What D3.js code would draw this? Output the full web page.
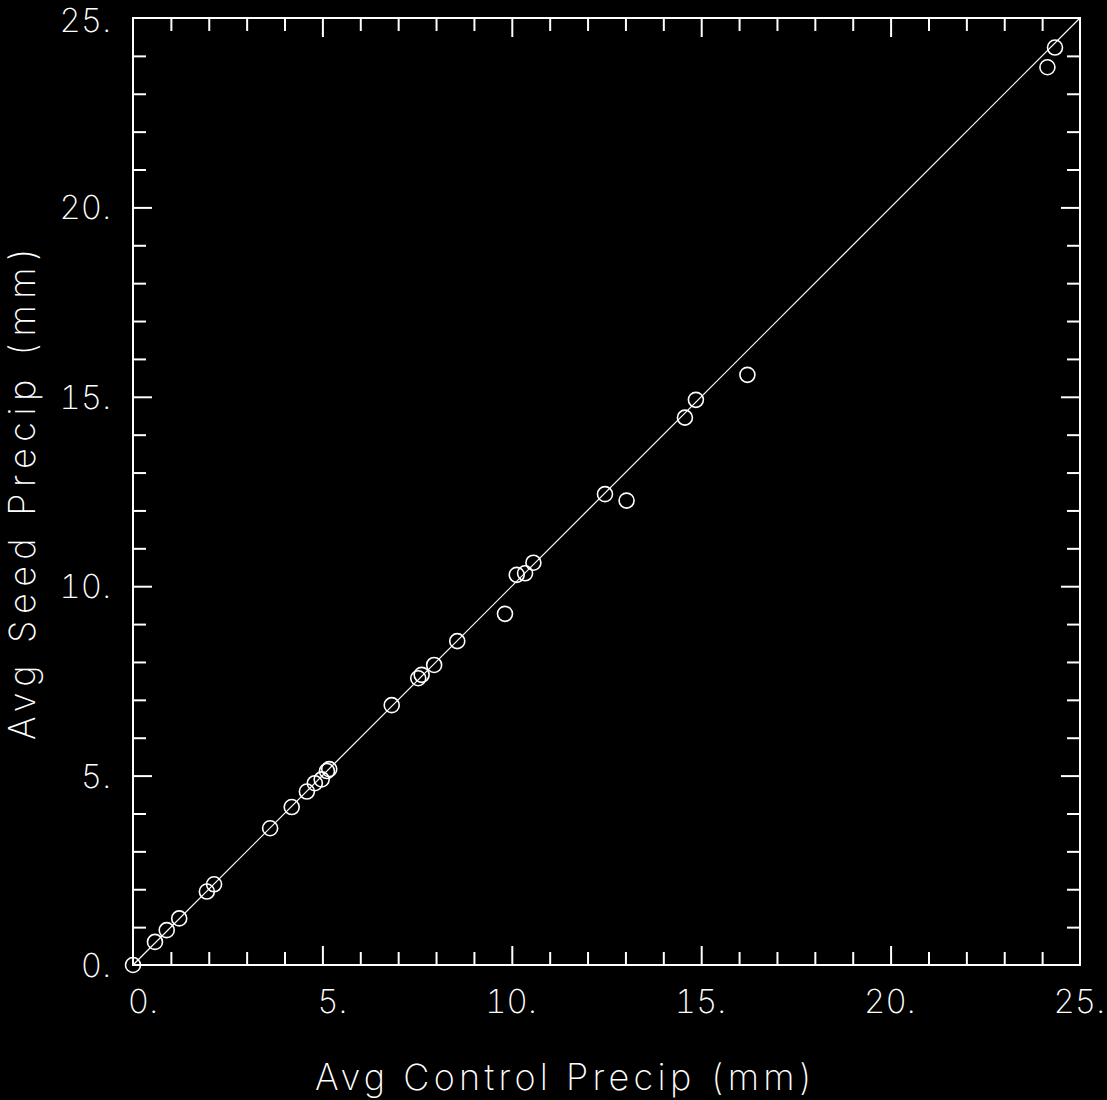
<!DOCTYPE html>
<html>
<head>
<meta charset="utf-8">
<script src="https://cdn.jsdelivr.net/npm/d3@7"></script>
<style>
  html, body { margin: 0; padding: 0; background: #000; }
  svg { display: block; }
  text { font-family: "Inter", "DejaVu Sans", sans-serif; font-weight: 200; fill: #fff; font-feature-settings: "tnum"; }
</style>
</head>
<body>
<svg id="chart" width="1107" height="1100"></svg>
<script>
// ---- data ----
const controlPrecip = [0.00, 0.58, 0.89, 1.22, 1.95, 2.14, 3.62, 4.19, 4.59, 4.80, 4.98, 5.12, 5.18,
  6.83, 7.53, 7.62, 7.95, 8.56, 9.82, 10.13, 10.35, 10.57,
  12.46, 13.03, 14.57, 14.86, 16.22, 24.14, 24.34];
const seedPrecip = [0.00, 0.61, 0.92, 1.23, 1.94, 2.13, 3.61, 4.17, 4.58, 4.80, 4.90, 5.12, 5.17,
  6.86, 7.57, 7.66, 7.92, 8.55, 9.27, 10.30, 10.34, 10.62,
  12.43, 12.26, 14.45, 14.92, 15.58, 23.70, 24.22];
const tickValues = [0, 5, 10, 15, 20, 25];
const tickLabels = ["0.", "5.", "10.", "15.", "20.", "25."];
const minorTicks = d3.range(0, 26, 1);
const axisDomain = [0, 25];
const xTitle = "Avg Control Precip (mm)";
const yTitle = "Avg Seed Precip (mm)";

(function () {
// ---- layout ----
const pLeft = 133, pRight = 1080, pTop = 18, pBottom = 965;
const svg = d3.select("#chart");
const x = d3.scaleLinear().domain(axisDomain).range([pLeft, pRight]);
const y = d3.scaleLinear().domain(axisDomain).range([pBottom, pTop]);

const stroke = "#fff";
const minorLen = 13, majorLen = 19;
const isMajor = v => v % 5 === 0;

function tickAxis(axisGen, transform) {
  const g = svg.append("g").attr("transform", transform);
  g.call(axisGen);
  g.select(".domain").remove();
  g.selectAll("text").remove();
  g.selectAll("line").attr("stroke", stroke).attr("stroke-width", 2);
  return g;
}
const innerMinor = minorTicks.filter(v => !isMajor(v));
const innerMajor = minorTicks.filter(v => isMajor(v) && v > 0 && v < 25);

tickAxis(d3.axisBottom(x).tickValues(innerMinor).tickSize(-minorLen), `translate(0,${pBottom})`);
tickAxis(d3.axisBottom(x).tickValues(innerMajor).tickSize(-majorLen), `translate(0,${pBottom})`);
tickAxis(d3.axisTop(x).tickValues(innerMinor).tickSize(-minorLen), `translate(0,${pTop})`);
tickAxis(d3.axisTop(x).tickValues(innerMajor).tickSize(-majorLen), `translate(0,${pTop})`);
tickAxis(d3.axisLeft(y).tickValues(innerMinor).tickSize(-minorLen), `translate(${pLeft},0)`);
tickAxis(d3.axisLeft(y).tickValues(innerMajor).tickSize(-majorLen), `translate(${pLeft},0)`);
tickAxis(d3.axisRight(y).tickValues(innerMinor).tickSize(-minorLen), `translate(${pRight},0)`);
tickAxis(d3.axisRight(y).tickValues(innerMajor).tickSize(-majorLen), `translate(${pRight},0)`);

// frame
svg.append("rect")
  .attr("x", x(0)).attr("y", y(25))
  .attr("width", x(25) - x(0)).attr("height", y(0) - y(25))
  .attr("fill", "none").attr("stroke", stroke).attr("stroke-width", 2);

// tick labels
const labelFont = 33;
svg.append("g").selectAll("text").data(tickValues).join("text")
  .attr("x", d => x(d) + 25)
  .attr("y", pBottom + 48)
  .attr("text-anchor", "end")
  .attr("font-size", labelFont)
  .text((d, i) => tickLabels[i]);

svg.append("g").selectAll("text").data(tickValues).join("text")
  .attr("x", pLeft - 22)
  .attr("y", d => Math.max(y(d) + 12, 32))
  .attr("text-anchor", "end")
  .attr("font-size", labelFont)
  .text((d, i) => tickLabels[i]);

// identity line
svg.append("line")
  .attr("x1", x(0)).attr("y1", y(0))
  .attr("x2", x(25)).attr("y2", y(25))
  .attr("stroke", stroke).attr("stroke-width", 1.2);

// points
svg.append("g").selectAll("circle").data(controlPrecip).join("circle")
  .attr("cx", d => x(d))
  .attr("cy", (d, i) => y(seedPrecip[i]))
  .attr("r", 7.5)
  .attr("fill", "none")
  .attr("stroke", stroke)
  .attr("stroke-width", 1.6);

// axis titles
svg.append("text")
  .attr("x", 315).attr("y", 1090)
  .attr("font-size", 36)
  .attr("textLength", 498).attr("lengthAdjust", "spacing")
  .text(xTitle);

svg.append("text")
  .attr("transform", `translate(35,740) rotate(-90)`)
  .attr("font-size", 36)
  .attr("textLength", 493).attr("lengthAdjust", "spacing")
  .text(yTitle);
})();
</script>
</body>
</html>
